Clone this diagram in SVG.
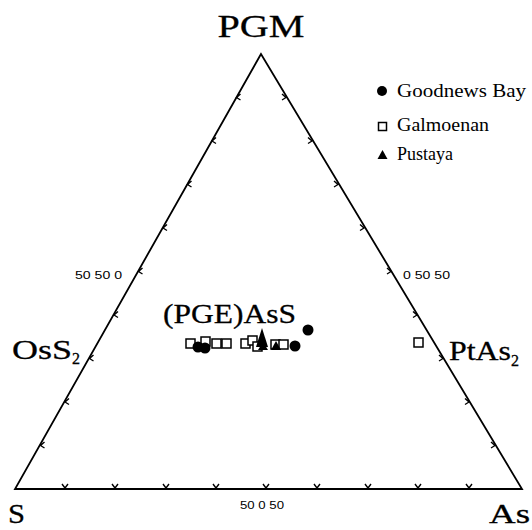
<svg xmlns="http://www.w3.org/2000/svg" width="532" height="530" viewBox="0 0 532 530">
<style>
.axis{fill:none;stroke:#000;stroke-width:1.8}
.tick{fill:none;stroke:#000;stroke-width:1.4}
.lbl{font-family:"Liberation Serif",serif;fill:#000;stroke:#000;stroke-width:0.3}
.num{font-family:"Liberation Sans",sans-serif;font-size:11px;fill:#000}
.leg{font-family:"Liberation Serif",serif;font-size:18px;fill:#000}
.sq{fill:#fff;stroke:#000;stroke-width:1.5}
.ci{fill:#000}
.tr{fill:#000}
</style>
<rect width="532" height="530" fill="#fff"/>
<g id="connectors">
<polygon class="axis" points="261,54 15,489 522,489"/>
<g id="ticks-left">
<path class="tick" d="M240.5 94 L236.5 97.5 L240.5 100"/>
<path class="tick" d="M216 137.5 L212 141 L216 143.5"/>
<path class="tick" d="M191.5 181 L187.5 184.5 L191.5 187"/>
<path class="tick" d="M167 224.5 L163 228 L167 230.5"/>
<path class="tick" d="M142.5 268 L138.5 271.5 L142.5 274"/>
<path class="tick" d="M118 311.5 L114 315 L118 317.5"/>
<path class="tick" d="M93.5 355 L89.5 358.5 L93.5 361"/>
<path class="tick" d="M69 398.5 L65 402 L69 404.5"/>
<path class="tick" d="M44.5 442 L40.5 445.5 L44.5 448"/>
</g>
<g id="ticks-right">
<path class="tick" d="M282 94 L286 97.5 L282 100"/>
<path class="tick" d="M308 137.5 L312 141 L308 143.5"/>
<path class="tick" d="M334 181 L338 184.5 L334 187"/>
<path class="tick" d="M360 224.5 L364 228 L360 230.5"/>
<path class="tick" d="M387 268 L391 271.5 L387 274"/>
<path class="tick" d="M413 311.5 L417 315 L413 317.5"/>
<path class="tick" d="M439 355 L443 358.5 L439 361"/>
<path class="tick" d="M465 398.5 L469 402 L465 404.5"/>
<path class="tick" d="M491 442 L495 445.5 L491 448"/>
</g>
<g id="ticks-bottom">
<path class="tick" d="M62 484 L65 488 L68 484"/>
<path class="tick" d="M112 484 L115 488 L118 484"/>
<path class="tick" d="M163 484 L166 488 L169 484"/>
<path class="tick" d="M213 484 L216 488 L219 484"/>
<path class="tick" d="M263 484 L266 488 L269 484"/>
<path class="tick" d="M314 484 L317 488 L320 484"/>
<path class="tick" d="M365 484 L368 488 L371 484"/>
<path class="tick" d="M415 484 L418 488 L421 484"/>
<path class="tick" d="M466 484 L469 488 L472 484"/>
</g>
</g>
<g id="node-PGM"><text class="lbl" x="261" y="37" font-size="32" text-anchor="middle" textLength="87" lengthAdjust="spacingAndGlyphs">PGM</text></g>
<g id="node-OsS2"><text class="lbl" x="12" y="359" font-size="28" textLength="60" lengthAdjust="spacingAndGlyphs">OsS</text><text class="lbl" x="72" y="364" font-size="16">2</text></g>
<g id="node-PtAs2"><text class="lbl" x="449" y="360" font-size="28" textLength="62" lengthAdjust="spacingAndGlyphs">PtAs</text><text class="lbl" x="511" y="366" font-size="16">2</text></g>
<g id="node-S"><text class="lbl" x="8" y="523" font-size="28" textLength="17" lengthAdjust="spacingAndGlyphs">S</text></g>
<g id="node-As"><text class="lbl" x="489" y="523" font-size="28" textLength="41" lengthAdjust="spacingAndGlyphs">As</text></g>
<g id="node-PGEAsS"><text class="lbl" x="163" y="323" font-size="28" textLength="133" lengthAdjust="spacingAndGlyphs">(PGE)AsS</text></g>
<g id="scale-labels">
<text class="num" x="75" y="279" textLength="47" lengthAdjust="spacingAndGlyphs">50 50 0</text>
<text class="num" x="403" y="279" textLength="47" lengthAdjust="spacingAndGlyphs">0 50 50</text>
<text class="num" x="240" y="509" textLength="44" lengthAdjust="spacingAndGlyphs">50 0 50</text>
</g>
<g id="legend">
<circle class="ci" cx="382" cy="91" r="5"/>
<text class="leg" x="397" y="97" textLength="129" lengthAdjust="spacingAndGlyphs">Goodnews Bay</text>
<rect class="sq" x="378.5" y="122.5" width="8" height="8"/>
<text class="leg" x="397" y="131" textLength="92" lengthAdjust="spacingAndGlyphs">Galmoenan</text>
<polygon class="tr" points="382.5,150 377.5,159 387.5,159"/>
<text class="leg" x="397" y="160" textLength="56" lengthAdjust="spacingAndGlyphs">Pustaya</text>
</g>
<g id="data">
<rect class="sq" x="186" y="339" width="9" height="9"/>
<rect class="sq" x="201" y="337" width="9" height="9"/>
<rect class="sq" x="212" y="339" width="9" height="9"/>
<rect class="sq" x="222" y="339" width="9" height="9"/>
<rect class="sq" x="241" y="339" width="9" height="9"/>
<rect class="sq" x="248" y="336" width="9" height="9"/>
<rect class="sq" x="253" y="342" width="9" height="9"/>
<rect class="sq" x="271" y="340" width="9" height="9"/>
<rect class="sq" x="279" y="340" width="9" height="9"/>
<rect class="sq" x="414" y="338" width="9" height="9"/>
<circle class="ci" cx="198" cy="347" r="5.5"/>
<circle class="ci" cx="205" cy="348" r="5.5"/>
<circle class="ci" cx="295" cy="346" r="5.5"/>
<circle class="ci" cx="308" cy="330" r="5.5"/>
<polygon class="tr" points="262,328 256,347 268,347"/>
<polygon class="tr" points="276,341 271,350 281,350"/>
<polygon class="tr" points="263,342 258,350 268,350"/>
</g>
</svg>
